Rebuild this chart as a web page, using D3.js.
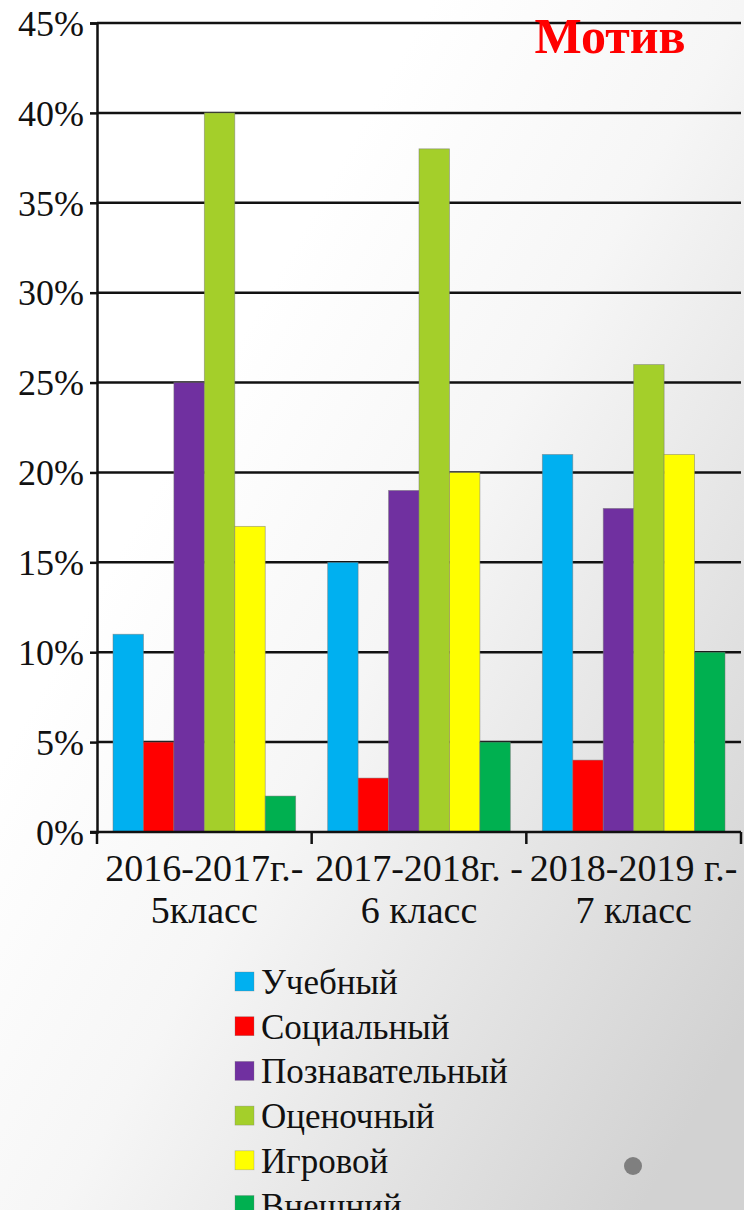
<!DOCTYPE html>
<html><head><meta charset="utf-8">
<script src="https://cdn.jsdelivr.net/npm/d3@7"></script>
<style>html,body{margin:0;padding:0;overflow:hidden;background:#fff}</style>
</head><body>
<script>
const categories = [["2016-2017г.-","5класс"],["2017-2018г. -","6 класс"],["2018-2019 г.-","7 класс"]];
const seriesNames = ["Учебный","Социальный","Познавательный","Оценочный","Игровой","Внешний"];
const seriesColors = ["#00b0f0","#ff0000","#7030a0","#a4cf2a","#ffff00","#00b050"];
const values = [
  [11, 15, 21],
  [5, 3, 4],
  [25, 19, 18],
  [40, 38, 26],
  [17, 20, 21],
  [2, 5, 10]
];
const yTicks = [0,5,10,15,20,25,30,35,40,45];
const title = "Мотив";

(function(){
const FONT = "Liberation Serif";
const W = 744, H = 1210;
const svg = d3.select("body").append("svg").attr("width", W).attr("height", H);
const defs = svg.append("defs");
const g = defs.append("linearGradient").attr("id","bg").attr("x1","0.35").attr("y1","0.25").attr("x2","1").attr("y2","0.85");
g.append("stop").attr("offset","0").attr("stop-color","#ffffff");
g.append("stop").attr("offset","0.35").attr("stop-color","#f6f6f6");
g.append("stop").attr("offset","1").attr("stop-color","#d2d2d2");
svg.append("rect").attr("width",W).attr("height",H).attr("fill","url(#bg)");

const pl = 97, pr = 741, pt = 23, pb = 832;
const x0 = d3.scaleBand().domain(d3.range(categories.length)).range([pl, pr]).paddingInner(0).paddingOuter(0);
const x1 = d3.scaleBand().domain(d3.range(seriesNames.length)).range([16, x0.bandwidth()-16]);
const y = d3.scaleLinear().domain([0,45]).range([pb, pt]);

// gridlines
svg.append("g").selectAll("line").data(yTicks.filter(d=>d>0)).join("line")
  .attr("x1", pl).attr("x2", pr).attr("y1", d=>y(d)).attr("y2", d=>y(d))
  .attr("stroke","#111").attr("stroke-width",2.5);

// bars
const groups = svg.append("g").selectAll("g").data(values).join("g")
  .attr("fill", (d,i)=>seriesColors[i]);
groups.each(function(vals, si){
  d3.select(this).selectAll("rect").data(vals).join("rect")
    .attr("x", (v,ci)=>x0(ci)+x1(si))
    .attr("width", x1.bandwidth())
    .attr("y", v=>y(v))
    .attr("height", v=>y(0)-y(v))
    .attr("stroke","rgba(120,120,120,0.6)").attr("stroke-width",0.8);
});

// y axis
const yAxis = d3.axisLeft(y).tickValues(yTicks).tickSize(7).tickFormat(d=>d+"%");
const ya = svg.append("g").attr("transform",`translate(${pl},0)`).call(yAxis);
ya.attr("font-family",FONT);
ya.select(".domain").attr("stroke","#111").attr("stroke-width",2.5);
ya.selectAll(".tick line").attr("stroke","#111").attr("stroke-width",2.5);
ya.selectAll(".tick text").attr("font-family",FONT)
  .attr("font-size",36).attr("fill","#111").attr("x",-13).attr("dy","0.34em");

// x axis
const xa = svg.append("g").attr("transform",`translate(0,${pb})`);
xa.append("line").attr("x1",pl-7).attr("x2",pr).attr("stroke","#111").attr("stroke-width",2.5);
const bounds = d3.range(categories.length+1).map(i=> i<categories.length ? x0(i) : pr);
xa.selectAll("line.tk").data(bounds).join("line").attr("class","tk")
  .attr("x1",d=>d).attr("x2",d=>d).attr("y1",0).attr("y2",12)
  .attr("stroke","#111").attr("stroke-width",2.5);
const xl = xa.selectAll("text").data(categories).join("text")
  .attr("font-family",FONT)
  .attr("font-size",38).attr("fill","#111").attr("text-anchor","middle");
xl.each(function(lines, i){
  const t = d3.select(this);
  const cx = x0(i)+x0.bandwidth()/2;
  t.selectAll("tspan").data(lines).join("tspan")
    .attr("x", cx).attr("y",(d,k)=>49+k*42).text(d=>d);
});

// title
svg.append("text").attr("x",610).attr("y",53).attr("text-anchor","middle")
  .attr("font-family",FONT).attr("font-weight","bold")
  .attr("font-size",50).attr("fill","#ff0000").text(title);

// legend
const lg = svg.append("g").attr("transform","translate(235,972)");
const items = lg.selectAll("g").data(seriesNames).join("g").attr("transform",(d,i)=>`translate(0,${i*44.7})`);
items.append("rect").attr("width",19).attr("height",19).attr("fill",(d,i)=>seriesColors[i])
  .attr("stroke","rgba(120,120,120,0.5)").attr("stroke-width",0.6);
items.append("text").attr("x",26).attr("y",22)
  .attr("font-family",FONT).attr("font-size",35).attr("fill","#111")
  .text(d=>d);

// decorative dot
svg.append("circle").attr("cx",633).attr("cy",1166).attr("r",9).attr("fill","#7f7f7f");
})();
</script>
</body></html>
